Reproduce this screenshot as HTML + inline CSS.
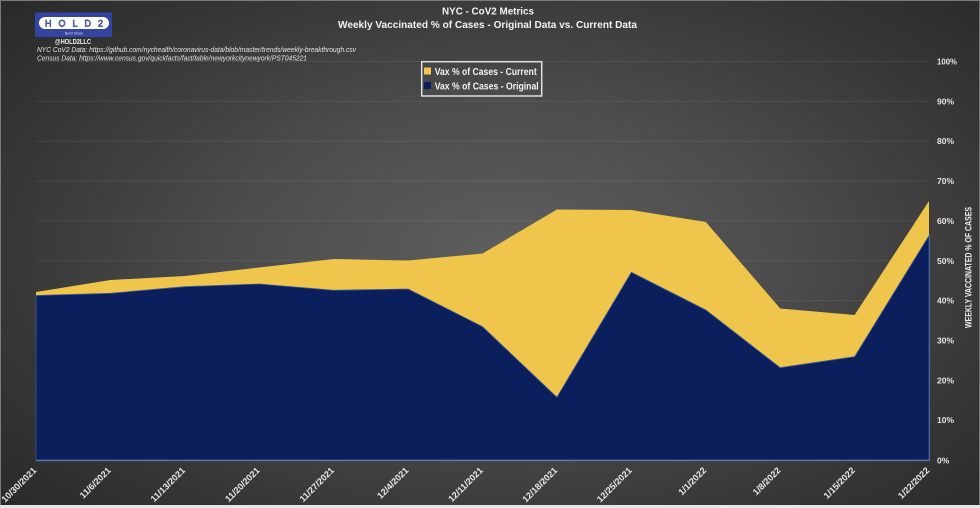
<!DOCTYPE html>
<html><head><meta charset="utf-8"><style>
html,body{margin:0;padding:0;background:#2a2a2a}
#c{position:relative;width:980px;height:508px;overflow:hidden;
background:radial-gradient(ellipse 70% 75% at 52% 50%, #5e5e5e 0%, #4c4c4c 40%, #363636 75%, #292929 100%);}
svg{position:absolute;left:0;top:0}
text{font-family:"Liberation Sans",sans-serif}
</style></head><body><div id="c">
<svg width="980" height="508" viewBox="0 0 980 508" xmlns="http://www.w3.org/2000/svg">
<!-- border -->
<rect x="0.5" y="0.5" width="979" height="507" fill="none" stroke="#7a7a7a" stroke-width="1"/>
<rect x="0" y="505" width="980" height="3" fill="#e6e6e6"/>
<!-- gridlines -->
<g stroke="rgba(255,255,255,0.075)" stroke-width="1">
<line x1="36" y1="61.5" x2="929" y2="61.5"/>
<line x1="36" y1="101.4" x2="929" y2="101.4"/>
<line x1="36" y1="141.2" x2="929" y2="141.2"/>
<line x1="36" y1="181.1" x2="929" y2="181.1"/>
<line x1="36" y1="220.9" x2="929" y2="220.9"/>
<line x1="36" y1="260.8" x2="929" y2="260.8"/>
<line x1="36" y1="300.6" x2="929" y2="300.6"/>
<line x1="36" y1="340.5" x2="929" y2="340.5"/>
<line x1="36" y1="380.3" x2="929" y2="380.3"/>
<line x1="36" y1="420.2" x2="929" y2="420.2"/>
</g>
<!-- current (yellow) -->
<polygon fill="#efc54b" points="36,460 36,292 110.4,280 184.8,276 259.3,267.5 333.7,259 408.1,260.5 482.5,253.5 556.9,209.5 631.4,210 705.8,222 780.2,308.5 854.6,315 929,201 929,460"/>
<!-- original (blue) -->
<polygon fill="#0a1f5b" stroke="#3d5a96" stroke-width="0.8" points="36,460 36,295.5 110.4,293.3 184.8,286.7 259.3,284 333.7,290.3 408.1,289 482.5,326.7 556.9,397.3 631.4,272.3 705.8,310 780.2,367.7 854.6,356.7 929,235.7 929,460"/>
<line x1="36" y1="460.5" x2="930" y2="460.5" stroke="#5b77ad" stroke-width="1.2"/>
<line x1="929.5" y1="235" x2="929.5" y2="460.5" stroke="#4a67a3" stroke-width="1"/>

<!-- logo -->
<rect x="35" y="12.5" width="77" height="24.5" fill="#3344a3"/>
<rect x="39" y="17" width="70" height="12" rx="6" fill="#ffffff"/>
<text x="74" y="26.5" text-anchor="middle" font-size="9" fill="#ffffff" stroke="#3a4aa6" stroke-width="0.7" textLength="58" lengthAdjust="spacing">HOLD2</text>
<text x="74" y="34.5" text-anchor="middle" font-size="3.5" fill="#dde">Build Share</text>
<text x="55" y="44" font-size="7.5" font-weight="bold" fill="#f0f0f0" textLength="36" lengthAdjust="spacingAndGlyphs">@HOLD2LLC</text>
<text x="37" y="52" font-size="7.5" font-style="italic" fill="#e6e6e6" textLength="319" lengthAdjust="spacingAndGlyphs">NYC CoV2 Data: https://github.com/nychealth/coronavirus-data/blob/master/trends/weekly-breakthrough.csv</text>
<text x="37" y="60.5" font-size="7.5" font-style="italic" fill="#e6e6e6" textLength="270" lengthAdjust="spacingAndGlyphs">Census Data: https://www.census.gov/quickfacts/fact/table/newyorkcitynewyork/PST045221</text>

<!-- titles -->
<text x="488" y="14.5" text-anchor="middle" font-size="10.5" font-weight="bold" fill="#f2f2f2" textLength="92" lengthAdjust="spacingAndGlyphs">NYC - CoV2 Metrics</text>
<text x="487.5" y="28" text-anchor="middle" font-size="10.5" font-weight="bold" fill="#f2f2f2" textLength="299" lengthAdjust="spacingAndGlyphs">Weekly Vaccinated % of Cases - Original Data vs. Current Data</text>

<!-- legend -->
<rect x="421.7" y="61.7" width="120" height="34.3" fill="none" stroke="#e0e0e0" stroke-width="1.5"/>
<rect x="424" y="67.5" width="7" height="7" fill="#efc54b"/>
<rect x="424" y="82" width="7" height="7" fill="#0a1f5b"/>
<text x="434.7" y="74.8" font-size="10.5" font-weight="bold" fill="#f2f2f2" textLength="102" lengthAdjust="spacingAndGlyphs">Vax % of Cases - Current</text>
<text x="434.7" y="89.6" font-size="10.5" font-weight="bold" fill="#f2f2f2" textLength="104" lengthAdjust="spacingAndGlyphs">Vax % of Cases - Original</text>

<!-- right axis labels -->
<g font-size="8.5" font-weight="bold" fill="#e6e6e6">
<text x="937" y="64.5" textLength="20" lengthAdjust="spacingAndGlyphs">100%</text>
<text x="937" y="104.4">90%</text>
<text x="937" y="144.2">80%</text>
<text x="937" y="184.1">70%</text>
<text x="937" y="223.9">60%</text>
<text x="937" y="263.8">50%</text>
<text x="937" y="303.6">40%</text>
<text x="937" y="343.5">30%</text>
<text x="937" y="383.3">20%</text>
<text x="937" y="423.2">10%</text>
<text x="937" y="463.5">0%</text>
</g>
<text transform="translate(971.5,267.5) rotate(-90)" text-anchor="middle" font-size="9.5" font-weight="bold" fill="#ededed" textLength="121" lengthAdjust="spacingAndGlyphs">WEEKLY VACCINATED % OF CASES</text>

<!-- x labels -->
<g font-size="9" font-weight="bold" fill="#e8e8e8" text-anchor="end">
<text transform="translate(37,471) rotate(-45)">10/30/2021</text>
<text transform="translate(111.4,471) rotate(-45)">11/6/2021</text>
<text transform="translate(185.8,471) rotate(-45)">11/13/2021</text>
<text transform="translate(260.3,471) rotate(-45)">11/20/2021</text>
<text transform="translate(334.7,471) rotate(-45)">11/27/2021</text>
<text transform="translate(409.1,471) rotate(-45)">12/4/2021</text>
<text transform="translate(483.5,471) rotate(-45)">12/11/2021</text>
<text transform="translate(557.9,471) rotate(-45)">12/18/2021</text>
<text transform="translate(632.4,471) rotate(-45)">12/25/2021</text>
<text transform="translate(706.8,471) rotate(-45)">1/1/2022</text>
<text transform="translate(781.2,471) rotate(-45)">1/8/2022</text>
<text transform="translate(855.6,471) rotate(-45)">1/15/2022</text>
<text transform="translate(930,471) rotate(-45)">1/22/2022</text>
</g>
</svg>
</div></body></html>
